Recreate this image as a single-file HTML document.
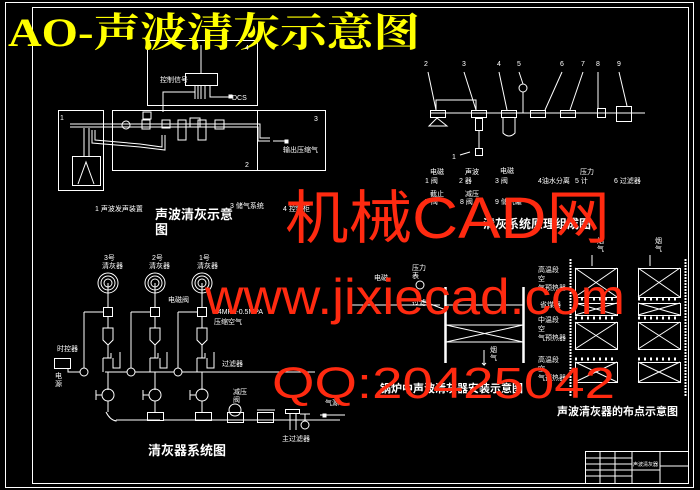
<!DOCTYPE html>
<html><head><meta charset="utf-8"><style>
html,body{margin:0;padding:0;background:#000;}
svg{display:block}
text{font-family:"Liberation Sans","Noto Sans CJK SC",sans-serif;fill:#fff;}
text.title{font-family:"Liberation Serif","Noto Serif CJK SC",serif;fill:#ffff00;font-weight:bold;}
text.wm{fill:#ff2a10;font-weight:normal;font-family:"Liberation Sans","Noto Sans CJK SC",sans-serif;}
</style></head><body>
<svg width="700" height="490" viewBox="0 0 700 490" xmlns="http://www.w3.org/2000/svg">
<rect width="700" height="490" fill="#000"/>
<g fill="none" stroke="#fff" stroke-width="1">
<rect x="5.5" y="2.5" width="688" height="485"/>
<rect x="32.5" y="7.5" width="656" height="476"/>
<rect x="147.5" y="40.5" width="110" height="65"/>
<rect x="185.5" y="73.5" width="32" height="12"/>
<line x1="201" y1="45" x2="201" y2="73"/>
<path d="M195 86V99 M198 86V99 M201 86V99 M205 86V99"/>
<path d="M210 86V97H230"/><rect x="229" y="95" width="3" height="3" fill="#fff"/>
<path d="M195 92H163V112"/>
<rect x="58.5" y="110.5" width="45" height="80"/>
<rect x="112.5" y="110.5" width="145" height="60"/>
<rect x="257.5" y="110.5" width="68" height="60"/>
<rect x="72.5" y="156.5" width="28" height="29"/>
<path d="M78 184L86 162L94 184"/>
<line x1="70" y1="124" x2="100" y2="124"/><line x1="70" y1="127" x2="100" y2="127"/>
<path d="M84 128V156 M89 128V156"/>
<path d="M100 124H260V138H270 M100 127H258V141H270"/>
<path d="M92 130V143L140 147L165 150V135 M95 130V140L140 144L162 147V135"/>
<circle cx="126" cy="125" r="4"/><rect x="142" y="120" width="8" height="9"/>
<rect x="143" y="112" width="8" height="7"/>
<rect x="162" y="120" width="8" height="8"/><rect x="178" y="120" width="8" height="20"/>
<rect x="190" y="118" width="10" height="9"/><rect x="198" y="120" width="8" height="20"/>
<rect x="215" y="120" width="9" height="9"/>
<path d="M273 141H285"/><rect x="285" y="140" width="3" height="3" fill="#fff"/>
<path d="M430 113H645"/>
<rect x="430.5" y="110.5" width="15" height="7"/>
<path d="M437 118L429 126H447Z"/>
<path d="M436 110V100H476V110"/>
<rect x="471.5" y="110.5" width="15" height="7"/>
<rect x="475.5" y="118.5" width="7" height="12"/>
<path d="M479 131V148"/><rect x="475.5" y="148.5" width="7" height="7"/>
<path d="M470 152L460 155"/>
<rect x="501.5" y="110.5" width="15" height="7"/>
<path d="M503 118V133Q509 139 515 133V118"/>
<path d="M523 113V92"/><circle cx="523" cy="88" r="4"/>
<rect x="530.5" y="110.5" width="15" height="7"/>
<rect x="560.5" y="110.5" width="15" height="7"/>
<rect x="597.5" y="108.5" width="8" height="9"/>
<rect x="616.5" y="106.5" width="15" height="15"/>
<path d="M428 72L436 110 M464 72L476 110 M499 72L507 110 M519 72L523 84 M562 72L545 110 M583 72L570 110 M598 72V108 M619 72L627 106"/>
<g id="col">
<circle cx="108" cy="283" r="10"/><circle cx="108" cy="283" r="7"/><circle cx="108" cy="283" r="4"/>
<path d="M108 283V307"/><rect x="103.5" y="307.5" width="9" height="9"/>
<path d="M108 317V328"/><path d="M103 328H113V340L108 345L103 340Z"/>
<path d="M108 345V358"/><path d="M103 358V372M103 358H111V353M113 358V368H120V352"/>
<path d="M108 372V390"/><circle cx="108" cy="395" r="6"/><path d="M96 390V400M96 395H102"/>
<path d="M108 401V412"/>
</g>
<use href="#col" x="47"/><use href="#col" x="94"/>
<path d="M105 372H315"/>
<path d="M84 312V372 M84 312H103 M131 312V372M131 312H150 M178 312V372M178 312H197"/>
<circle cx="84" cy="372" r="4" fill="#000"/><circle cx="131" cy="372" r="4" fill="#000"/><circle cx="178" cy="372" r="4" fill="#000"/>
<rect x="54.5" y="358.5" width="16" height="10"/><path d="M68 369V372H80"/>
<path d="M106 412Q110 420 116 421V420 M116 420H160"/>
<rect x="147.5" y="412.5" width="16" height="8"/><rect x="195.5" y="412.5" width="16" height="8"/>
<path d="M163 420H340"/>
<rect x="227.5" y="412.5" width="16" height="10"/><circle cx="235" cy="410" r="6"/>
<rect x="257.5" y="412.5" width="16" height="10"/><path d="M257 410H275"/>
<rect x="285.5" y="409.5" width="14" height="4"/><path d="M290 414V430 M296 414V430"/>
<circle cx="305" cy="425" r="4"/><path d="M305 414V420 M300 414H310"/>
<path d="M320 415H345"/><rect x="323" y="414" width="3" height="3" fill="#fff"/>
<path d="M445 287V363 M446 287V363 M523 287V363 M524 287V363" stroke-width="1.5"/>
<path d="M446 305H523 M446 325H523 M446 342H523 M446 325L523 342 M446 342L523 325"/>
<path d="M420 300L446 310"/>
<path d="M484 350V365L482 363M484 365L486 363"/>
<circle cx="420" cy="285" r="4"/>
<path d="M350 305H440"/>
<path d="M570 259V397 M571 259V397 M685 259V397 M686 259V397" stroke-dasharray="2 1"/>
<path d="M592 255V266 M650 255V266"/>
<rect x="575.5" y="268.5" width="42" height="29"/><path d="M575 268L617 297M617 268L575 297"/>
<rect x="638.5" y="268.5" width="42" height="29"/><path d="M638 268L680 297M680 268L638 297"/>
<rect x="575.5" y="303.5" width="42" height="12"/><path d="M575 303L617 315M617 303L575 315"/>
<rect x="638.5" y="303.5" width="42" height="12"/><path d="M638 303L680 315M680 303L638 315"/>
<rect x="575.5" y="322.5" width="42" height="27"/><path d="M575 322L617 349M617 322L575 349"/>
<rect x="638.5" y="322.5" width="42" height="27"/><path d="M638 322L680 349M680 322L638 349"/>
<rect x="575.5" y="362.5" width="42" height="20"/><path d="M575 362L617 382M617 362L575 382"/>
<rect x="638.5" y="362.5" width="42" height="20"/><path d="M638 362L680 382M680 362L638 382"/>
<path d="M575 299H617 M638 299H680 M575 318H617 M638 318H680 M575 359H617 M638 359H680" stroke-dasharray="2 4" stroke-width="3"/>
<rect x="585.5" y="451.5" width="103" height="32"/>
<path d="M632 451V483 M660 451V483 M660 466H688 M632 470H660 M585 458H632 M585 464H632 M585 470H632 M585 476H632 M600 451V483 M615 451V483"/>
</g>
<text class="title" x="8" y="46" font-size="40" textLength="412" lengthAdjust="spacingAndGlyphs">AO-声波清灰示意图</text>
<g font-size="7">
<text x="60" y="120">1</text><text x="245" y="167">2</text><text x="314" y="121">3</text><text x="245" y="50">4</text>
<text x="232" y="100">DCS</text><text x="160" y="82">控制信号</text><text x="283" y="152">输出压缩气</text>
<text x="95" y="211">1 声波发声装置</text><text x="230" y="208">3 储气系统</text><text x="283" y="211">4 控制柜</text>
<text x="424" y="66">2</text><text x="462" y="66">3</text><text x="497" y="66">4</text><text x="517" y="66">5</text><text x="560" y="66">6</text><text x="581" y="66">7</text><text x="596" y="66">8</text><text x="617" y="66">9</text>
<text x="452" y="159">1</text>
<text x="430" y="174">电磁</text><text x="425" y="183">1 阀</text><text x="465" y="174">声波</text><text x="459" y="183">2 器</text><text x="500" y="173">电磁</text><text x="495" y="183">3 阀</text><text x="538" y="183">4油水分离</text><text x="580" y="174">压力</text><text x="575" y="183">5 计</text><text x="614" y="183">6 过滤器</text>
<text x="430" y="196">截止</text><text x="425" y="204">7 阀</text><text x="465" y="196">减压</text><text x="460" y="204">8 阀</text><text x="495" y="204">9 储气罐</text>
<text x="104" y="260">3号</text><text x="102" y="268">清灰器</text><text x="152" y="260">2号</text><text x="149" y="268">清灰器</text><text x="199" y="260">1号</text><text x="197" y="268">清灰器</text>
<text x="168" y="302">电磁阀</text><text x="212" y="314">0.4MPA-0.5MPA</text><text x="214" y="324">压缩空气</text>
<text x="57" y="351">时控器</text><text x="55" y="378">电</text><text x="55" y="386">源</text>
<text x="222" y="366">过滤器</text><text x="233" y="394">减压</text><text x="233" y="402">阀</text>
<text x="282" y="441">主过滤器</text><text x="325" y="405">气源</text>
<text x="412" y="270">压力</text><text x="412" y="278">表</text><text x="374" y="280">电磁</text><text x="412" y="305">过滤</text>
<text x="490" y="352">烟</text><text x="490" y="360">气</text>
<text x="597" y="243">烟</text><text x="597" y="251">气</text><text x="655" y="243">烟</text><text x="655" y="251">气</text>
<text x="538" y="272">高温段</text><text x="538" y="281">空</text><text x="538" y="290">气预热器</text>
<text x="540" y="307">省煤器</text><text x="538" y="322">中温段</text><text x="538" y="331">空</text><text x="538" y="340">气预热器</text>
<text x="538" y="362">高温段</text><text x="538" y="371">空</text><text x="538" y="380">气预热器</text>
<text x="633" y="466" font-size="5">声波清灰器</text>
</g>
<g font-size="13" font-weight="bold">
<text x="155" y="219">声波清灰示意</text><text x="155" y="234">图</text>
<text x="483" y="228" font-size="12">清灰系统原理组成图</text>
<text x="148" y="455">清灰器系统图</text>
<text x="380" y="392" font-size="11">锅炉中声波清灰器安装示意图</text>
<text x="557" y="415" font-size="11">声波清灰器的布点示意图</text>
</g>
<text class="wm" x="285" y="238" font-size="58" textLength="325" lengthAdjust="spacingAndGlyphs">机械CAD网</text>
<text class="wm" x="205" y="314" font-size="50" textLength="420" lengthAdjust="spacingAndGlyphs">www.jixiecad.com</text>
<text class="wm" x="272" y="398" font-size="44" textLength="343" lengthAdjust="spacingAndGlyphs">QQ:20425042</text>
</svg>
</body></html>
